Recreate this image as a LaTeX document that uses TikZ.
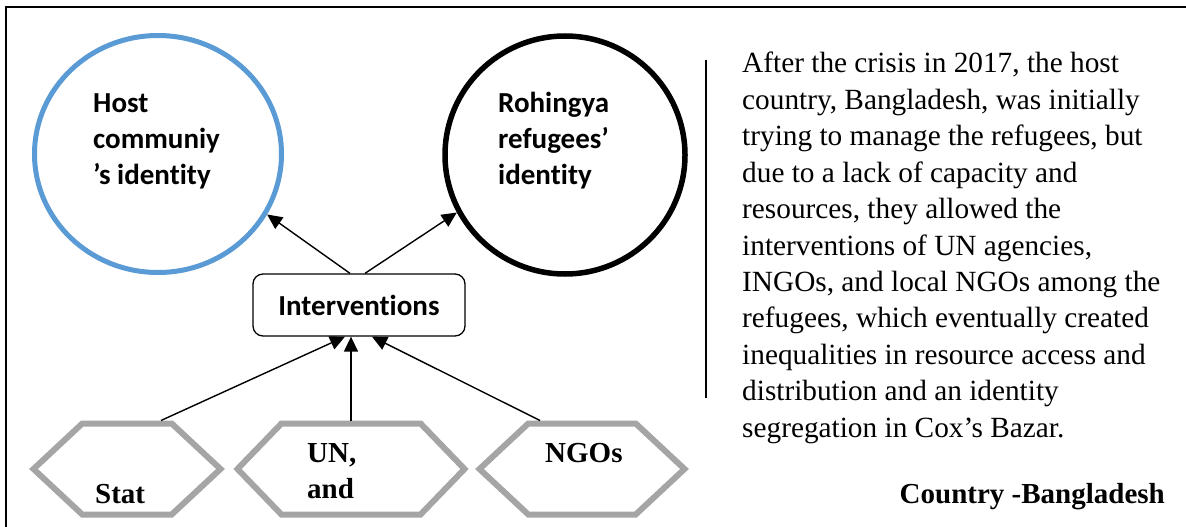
\documentclass[tikz,border=0pt]{standalone}
\usepackage{fontspec}
\setmainfont{Liberation Serif}
\newfontfamily\calibfont[Ligatures=NoCommon]{Carlito}
\usetikzlibrary{shapes.geometric, shapes.symbols, arrows.meta, positioning}
\definecolor{hostblue}{HTML}{5B9BD5}
\definecolor{hexgray}{HTML}{A5A5A5}

\begin{document}
\begin{tikzpicture}[x=1pt, y=-1pt,
	idcircle/.style={ellipse, draw, line width=5pt, inner sep=0pt},
	idtext/.style={align=left, anchor=north west, inner sep=0pt, font=\calibfont\bfseries\fontsize{29}{36}\selectfont},
	hexa/.style={signal, signal to=east and west, signal pointer angle=86, draw=hexgray, line width=6pt, minimum height=91pt, inner sep=0pt},
	hextext/.style={inner sep=0pt, font=\bfseries\fontsize{29}{36}\selectfont},
	ibox/.style={draw, rounded corners=10pt, line width=1.3pt, minimum width=212pt, minimum height=62pt, font=\calibfont\bfseries\fontsize{29}{34}\selectfont},
	arr/.style={-{Triangle[length=15pt,width=14pt]}, line width=1.4pt},
	bodytext/.style={anchor=base west, inner sep=0pt, font=\fontsize{29.3}{36}\selectfont}]
	% Fix the page size
	\useasboundingbox (0,0) rectangle (1186,527);
	% Distance between the text lines
	\newcommand\TextSkip{36.4}
	
	% Frame
	\draw[line width=1.5pt] (6,527) -- (6,7) -- (1186,7);
	
	% The two identities
	\node[idcircle, draw=hostblue, minimum width=247pt, minimum height=237pt] (host) at (158,154) {};
	\node[idcircle, line width=5.5pt, minimum width=240pt, minimum height=238pt] (roh) at (565,155) {};
	\node[idtext] (hostlbl) at (93,93) {Host\\communiy\\’s identity};
	\node[idtext] (rohlbl) at (498,92) {Rohingya\\refugees’\\identity};
	
	% Interventions in the middle
	\node[ibox] (interv) at (359,305) {Interventions};
	
	% The actors at the bottom
	\node[hexa, minimum width=187pt] (stat) at (127,469) {};
	\node[hexa, minimum width=227pt, signal pointer angle=92] (un) at (351,469) {};
	\node[hexa, minimum width=205pt] (ngo) at (582,469) {};
	\node[hextext, anchor=base west] (statlbl) at (95,503) {Stat};
	\node[hextext, align=left, anchor=north west] (unlbl) at (307,443) {UN,\\and};
	\node[hextext, anchor=base west] (ngolbl) at (545,462) {NGOs};
	
	% Arrows
	\draw[arr] ([xshift=-9pt]interv.north) -- (host.-29);
	\draw[arr] ([xshift=6pt]interv.north) -- (roh.208);
	\draw[arr] ([xshift=34pt]stat.north) -- ([xshift=-14pt]interv.south);
	\draw[arr] (un.north) -- ([xshift=-8pt]interv.south);
	\draw[arr] ([xshift=-42pt]ngo.north) -- ([xshift=13pt]interv.south);
	
	% Separator and the text on the right
	\draw[line width=1.5pt] (706,60) -- (706,398);
	\foreach \txt [count=\i from 0] in {
		{After the crisis in 2017, the host},
		{country, Bangladesh, was initially},
		{trying to manage the refugees, but},
		{due to a lack of capacity and},
		{resources, they allowed the},
		{interventions of UN agencies,},
		{INGOs, and local NGOs among the},
		{refugees, which eventually created},
		{inequalities in resource access and},
		{distribution and an identity},
		{segregation in Cox’s Bazar.}} {
		\node[bodytext] (line\i) at (742,{73+\i*\TextSkip}) {\txt};
	}
	\node[bodytext, anchor=base east, font=\bfseries\fontsize{29}{36}\selectfont] (country) at (1165,503) {Country -Bangladesh};
\end{tikzpicture}
\end{document}
